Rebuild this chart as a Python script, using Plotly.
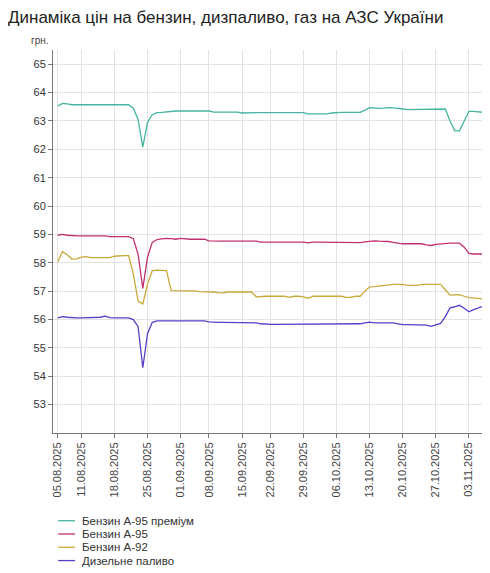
import plotly.graph_objects as go

# dates that have data (category axis, some days missing)
dates = (
    ["05.08.2025", "06.08.2025", "07.08.2025", "08.08.2025", "09.08.2025", "11.08.2025"]
    + ["%02d.08.2025" % d for d in range(12, 32)]
    + ["01.09.2025", "02.09.2025", "03.09.2025", "04.09.2025", "05.09.2025", "06.09.2025", "08.09.2025"]
    + ["%02d.09.2025" % d for d in range(9, 16)]
    + ["16.09.2025", "17.09.2025", "18.09.2025", "19.09.2025", "20.09.2025", "22.09.2025"]
    + ["%02d.09.2025" % d for d in range(23, 31)]
    + ["%02d.10.2025" % d for d in range(1, 32)]
    + ["%02d.11.2025" % d for d in range(1, 7)]
)

tick_labels = ["05.08.2025", "11.08.2025", "18.08.2025", "25.08.2025", "01.09.2025",
               "08.09.2025", "15.09.2025", "22.09.2025", "29.09.2025", "06.10.2025",
               "13.10.2025", "20.10.2025", "27.10.2025", "03.11.2025"]

a95_premium = [
    63.53, 63.62, 63.60, 63.57, 63.57, 63.57, 63.57, 63.57, 63.57, 63.57,
    63.57, 63.57, 63.57, 63.57, 63.57, 63.57, 63.45, 63.05, 62.08, 62.95,
    63.22, 63.29, 63.30, 63.32, 63.35, 63.35, 63.35, 63.35, 63.35, 63.35,
    63.35, 63.35, 63.35, 63.31, 63.31, 63.31, 63.31, 63.31, 63.31, 63.28,
    63.29, 63.29, 63.29, 63.29, 63.29, 63.29, 63.29, 63.29, 63.29, 63.29,
    63.29, 63.29, 63.29, 63.25, 63.25, 63.25, 63.25, 63.25, 63.28, 63.30,
    63.30, 63.30, 63.30, 63.30, 63.30, 63.38, 63.47, 63.46, 63.44, 63.45,
    63.47, 63.46, 63.43, 63.42, 63.40, 63.40, 63.40, 63.40, 63.40, 63.40,
    63.40, 63.40, 63.42, 63.00, 62.65, 62.65, 63.00, 63.34, 63.34, 63.32,
    63.30,
]

a95 = [
    58.97, 59.00, 58.97, 58.95, 58.95, 58.95, 58.95, 58.95, 58.95, 58.95,
    58.95, 58.92, 58.92, 58.92, 58.92, 58.92, 58.85, 58.30, 57.10, 58.20,
    58.72, 58.82, 58.84, 58.86, 58.85, 58.83, 58.86, 58.84, 58.83, 58.83,
    58.83, 58.83, 58.77, 58.76, 58.76, 58.76, 58.76, 58.76, 58.76, 58.76,
    58.76, 58.76, 58.76, 58.73, 58.73, 58.73, 58.73, 58.73, 58.73, 58.73,
    58.73, 58.73, 58.73, 58.70, 58.73, 58.73, 58.73, 58.73, 58.73, 58.73,
    58.73, 58.73, 58.73, 58.73, 58.71, 58.74, 58.76, 58.77, 58.76, 58.76,
    58.75, 58.72, 58.69, 58.67, 58.67, 58.67, 58.67, 58.67, 58.63, 58.61,
    58.65, 58.67, 58.69, 58.69, 58.69, 58.69, 58.55, 58.33, 58.31, 58.31,
    58.31,
]

a92 = [
    58.03, 58.39, 58.28, 58.13, 58.14, 58.20, 58.22, 58.18, 58.18, 58.18,
    58.18, 58.18, 58.23, 58.25, 58.25, 58.25, 57.60, 56.65, 56.55, 57.25,
    57.72, 57.74, 57.74, 57.72, 57.02, 57.01, 57.01, 57.01, 57.01, 57.01,
    56.98, 56.98, 56.98, 56.97, 56.95, 56.94, 56.97, 56.97, 56.97, 56.97,
    56.97, 56.97, 56.80, 56.82, 56.82, 56.82, 56.82, 56.82, 56.82, 56.78,
    56.82, 56.82, 56.80, 56.75, 56.82, 56.82, 56.82, 56.82, 56.82, 56.82,
    56.82, 56.78, 56.78, 56.82, 56.82, 57.00, 57.15, 57.16, 57.18, 57.21,
    57.24, 57.24, 57.24, 57.24, 57.20, 57.20, 57.20, 57.24, 57.24, 57.24,
    57.24, 57.24, 57.05, 56.86, 56.87, 56.88, 56.82, 56.77, 56.76, 56.74,
    56.72,
]

diesel = [
    56.06, 56.10, 56.08, 56.06, 56.06, 56.06, 56.06, 56.06, 56.06, 56.08,
    56.12, 56.07, 56.06, 56.06, 56.06, 56.06, 56.00, 55.75, 54.30, 55.50,
    55.90, 55.95, 55.95, 55.95, 55.95, 55.95, 55.95, 55.95, 55.95, 55.95,
    55.95, 55.95, 55.92, 55.90, 55.90, 55.90, 55.90, 55.90, 55.88, 55.88,
    55.88, 55.88, 55.88, 55.85, 55.83, 55.83, 55.83, 55.83, 55.83, 55.83,
    55.83, 55.83, 55.83, 55.83, 55.83, 55.83, 55.83, 55.83, 55.83, 55.83,
    55.83, 55.83, 55.83, 55.83, 55.85, 55.88, 55.91, 55.88, 55.88, 55.88,
    55.88, 55.88, 55.85, 55.82, 55.82, 55.82, 55.82, 55.82, 55.80, 55.76,
    55.82, 55.86, 56.10, 56.41, 56.45, 56.50, 56.40, 56.27, 56.35, 56.42,
    56.47,
]

names = ["Бензин А-95 преміум", "Бензин А-95", "Бензин А-92", "Дизельне паливо"]
series = [a95_premium, a95, a92, diesel]
colors = ["#45b5a0", "#c0306e", "#c9a93c", "#5b3ccb"]

y_ticks = list(range(53, 66))

fig = go.Figure()
for name, vals, col in zip(names, series, colors):
    fig.add_trace(go.Scatter(
        x=dates, y=vals, name=name, mode="lines",
        line=dict(color=col, width=1.3),
        showlegend=False,
    ))

# legend drawn by hand so the rows sit as tight as in the original
for k, (name, col) in enumerate(zip(names, colors)):
    yy = -0.229 - k * 0.0347
    fig.add_shape(type="line", xref="paper", yref="paper",
                  x0=0.012, x1=0.051, y0=yy, y1=yy,
                  line=dict(color=col, width=1.3))
    fig.add_annotation(text=name, xref="paper", yref="paper", x=0.063, y=yy,
                       xanchor="left", yanchor="middle", showarrow=False,
                       font=dict(size=11.5, color="#333333"))

fig.add_annotation(text="грн.", xref="paper", yref="paper", x=-0.005, y=1.005,
                   xanchor="right", yanchor="bottom", showarrow=False,
                   font=dict(size=10, color="#444444"))

# page body adds an 8px offset, so the figure is 8px smaller on each axis
fig.update_layout(
    width=482, height=565,
    margin=dict(l=45, r=5, t=42, b=140),
    paper_bgcolor="white",
    plot_bgcolor="white",
    font=dict(family="Liberation Sans, Arial, sans-serif", color="#333333"),
    title=dict(text="Динаміка цін на бензин, дизпаливо, газ на АЗС України",
               x=0.0, xanchor="left", y=0.984, yanchor="middle",
               pad=dict(l=0, t=0, b=0, r=0),
               font=dict(size=17, color="#222222")),
)

fig.update_xaxes(
    type="category",
    range=[-1, 90.4],
    automargin=False,
    tickmode="array", tickvals=tick_labels, ticktext=tick_labels,
    tickangle=-90,
    tickfont=dict(size=11, color="#444444"),
    showgrid=True, gridcolor="#e3e3e3", gridwidth=1,
    showline=True, linecolor="#777777", linewidth=1,
    ticks="outside", ticklen=4, tickcolor="#777777",
)

fig.update_yaxes(
    range=[52, 65.5],
    automargin=False,
    tickmode="array", tickvals=y_ticks,
    tickfont=dict(size=11, color="#333333"),
    showgrid=True, gridcolor="#e3e3e3", gridwidth=1,
    showline=True, linecolor="#777777", linewidth=1,
    ticks="outside", ticklen=4, tickcolor="#777777",
    zeroline=False,
)

fig.write_html("out.html")
